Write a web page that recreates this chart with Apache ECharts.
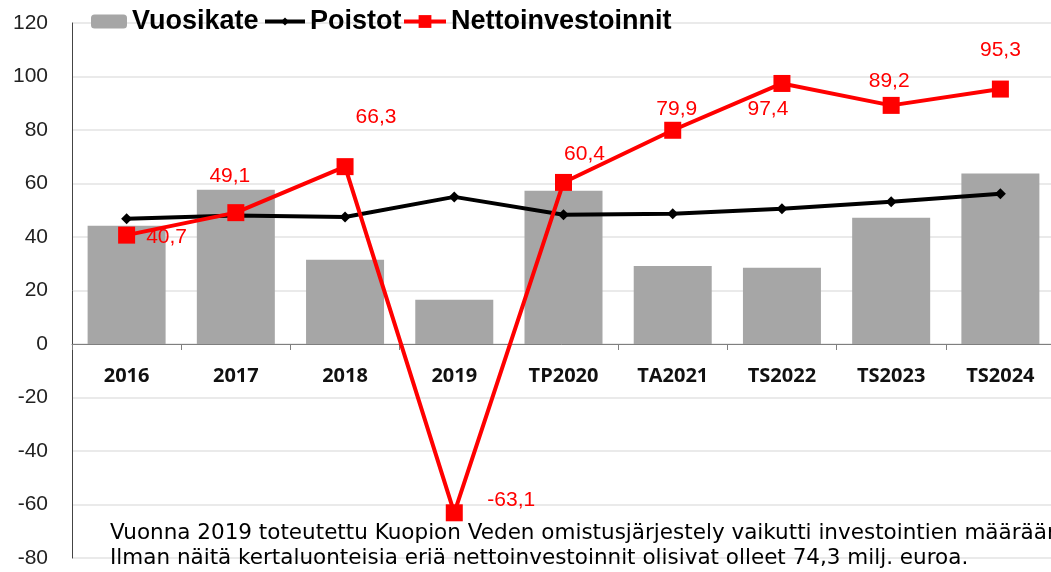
<!DOCTYPE html>
<html>
<head>
    <meta charset="utf-8">
    <title>Vuosikate, poistot ja nettoinvestoinnit</title>
    <style>
        *{ margin:0; padding:0; box-sizing:border-box; }
        html, body, #chart{ width:100%; height:100%; overflow:hidden; background:#fff; }
    </style>
</head>
<body>
    <div id="chart"></div>
    <script src="https://cdn.jsdelivr.net/npm/echarts@6/dist/echarts.min.js"></script>
    <script>
        var years = ['2016', '2017', '2018', '2019', 'TP2020', 'TA2021', 'TS2022', 'TS2023', 'TS2024'];
        var vuosikate = [44.2, 57.7, 31.5, 16.5, 57.3, 29.2, 28.5, 47.2, 63.7];
        var poistot = [46.8, 48.0, 47.5, 55.0, 48.3, 48.7, 50.6, 53.2, 56.2];
        var netto = [40.7, 49.1, 66.3, -63.1, 60.4, 79.9, 97.4, 89.2, 95.3];
        // label offsets for the red line
        var nettoOffsets = [[40, 2], [-6, -36], [31, -49], [57, -13], [21, -28], [4, -21], [-14, 26], [-2, -24], [0, -39]];
        var footnote = [
            'Vuonna 2019 toteutettu Kuopion Veden omistusjärjestely vaikutti investointien määrään.',
            'Ilman näitä kertaluonteisia eriä nettoinvestoinnit olisivat olleet 74,3 milj. euroa.'
        ];

        var myChart = echarts.init(document.getElementById('chart'));

        var nettoData = netto.map(function (v, i) {
            return {
                value: v,
                label: { offset: nettoOffsets[i] }
            };
        });

        var legendText = {
            fontFamily: '"Liberation Sans", Arial',
            fontWeight: 'bold',
            fontSize: 27,
            color: '#000'
        };

        var option = {
            animation: false,
            grid: { left: 72, right: -4, top: 23, bottom: 14, outerBoundsMode: 'none' },
            legend: [
                { data: ['Vuosikate'], left: 86, top: 3, itemWidth: 36, itemHeight: 14, textStyle: legendText },
                { data: ['Poistot'], left: 258, top: 3, itemWidth: 40, itemHeight: 10, lineStyle: { width: 4 }, textStyle: legendText },
                { data: ['Nettoinvestoinnit'], left: 397, top: 3, itemWidth: 42, itemHeight: 16, lineStyle: { width: 4 }, textStyle: legendText }
            ],
            xAxis: [
                {
                    type: 'category',
                    data: years,
                    axisLine: { onZero: true, lineStyle: { color: '#7f7f7f', width: 1 } },
                    axisTick: { show: true, length: 6, lineStyle: { color: '#7f7f7f' } },
                    axisLabel: { show: false }
                },
                {
                    // labels sitting under the zero line
                    type: 'category',
                    data: years,
                    position: 'bottom',
                    offset: -214,
                    axisLine: { show: false, onZero: false },
                    axisTick: { show: false },
                    axisLabel: {
                        margin: 22,
                        fontFamily: '"Open Sans", Arial',
                        fontWeight: 'bold',
                        fontSize: 20,
                        color: '#111'
                    }
                }
            ],
            yAxis: {
                type: 'value',
                min: -80,
                max: 120,
                interval: 20,
                axisLine: { show: true, lineStyle: { color: '#444', width: 1 } },
                axisTick: { show: false },
                splitLine: { lineStyle: { color: '#e3e3e3', width: 1.5 } },
                axisLabel: {
                    margin: 24,
                    fontFamily: '"Liberation Sans", Arial',
                    fontSize: 21,
                    color: '#222'
                }
            },
            series: [
                {
                    name: 'Vuosikate',
                    type: 'bar',
                    data: vuosikate,
                    barWidth: 78,
                    itemStyle: { color: '#a6a6a6' },
                    z: 1
                },
                {
                    name: 'Poistot',
                    type: 'line',
                    data: poistot,
                    symbol: 'diamond',
                    symbolSize: 11,
                    lineStyle: { color: '#000', width: 4 },
                    itemStyle: { color: '#000' },
                    z: 2
                },
                {
                    name: 'Nettoinvestoinnit',
                    type: 'line',
                    data: nettoData,
                    symbol: 'rect',
                    symbolSize: 17,
                    lineStyle: { color: '#ff0000', width: 4 },
                    itemStyle: { color: '#ff0000' },
                    label: {
                        show: true,
                        position: 'inside',
                        align: 'center',
                        verticalAlign: 'middle',
                        fontFamily: '"Liberation Sans", Arial',
                        fontSize: 21,
                        color: '#ff0000',
                        formatter: function (p) {
                            return String(p.value).replace('.', ',');
                        }
                    },
                    z: 3
                }
            ],
            graphic: [
                {
                    type: 'text',
                    left: 110,
                    top: 521,
                    z: 10,
                    style: {
                        text: footnote.join('\n'),
                        fontFamily: '"DejaVu Sans", Verdana',
                        fontSize: 21.5,
                        lineHeight: 25,
                        fill: '#000'
                    }
                }
            ]
        };

        myChart.setOption(option);
    </script>
</body>
</html>
